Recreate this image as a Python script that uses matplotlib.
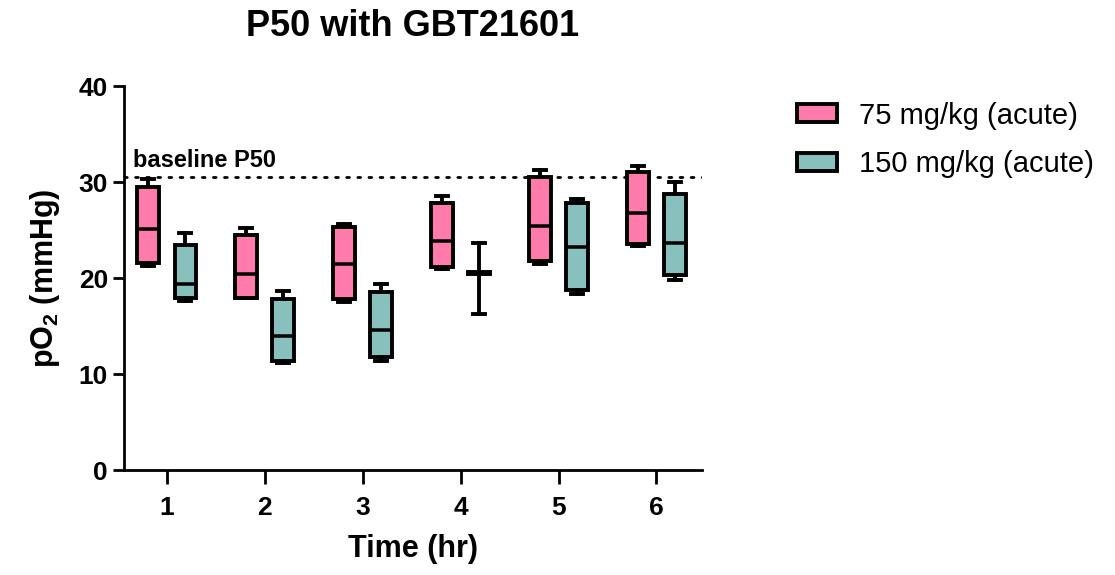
import numpy as np
import matplotlib
matplotlib.use("Agg")
import matplotlib.pyplot as plt
from matplotlib.patches import Patch

plt.rcParams['font.family'] = ['Liberation Sans', 'DejaVu Sans']
plt.rcParams['mathtext.fontset'] = 'custom'
plt.rcParams['mathtext.rm'] = 'Liberation Sans:bold'
plt.rcParams['mathtext.bf'] = 'Liberation Sans:bold'

# time points (hr)
times = [1, 2, 3, 4, 5, 6]

# 75 mg/kg (acute) box stats, mmHg
low_whislo = [21.2, 17.9, 17.5, 20.9, 21.5, 23.3]
low_q1 = [21.6, 17.95, 17.8, 21.1, 21.8, 23.5]
low_med = [25.1, 20.4, 21.5, 23.9, 25.4, 26.8]
low_q3 = [29.5, 24.5, 25.3, 27.8, 30.5, 31.0]
low_whishi = [30.3, 25.2, 25.6, 28.5, 31.25, 31.7]

# 150 mg/kg (acute) box stats, mmHg
high_whislo = [17.6, 11.1, 11.4, 16.2, 18.3, 19.8]
high_q1 = [17.95, 11.4, 11.8, 20.4, 18.7, 20.3]
high_med = [19.4, 13.96, 14.6, 20.5, 23.2, 23.6]
high_q3 = [23.4, 17.8, 18.5, 20.6, 27.85, 28.8]
high_whishi = [24.7, 18.6, 19.4, 23.6, 28.2, 30.0]

baseline_p50 = 30.5

series_labels = ["75 mg/kg (acute)", "150 mg/kg (acute)"]
colors = ["#ff7bac", "#88c0bd"]


def make_stats(whislo, q1, med, q3, whishi):
    stats = []
    for i in range(len(med)):
        stats.append(dict(whislo=whislo[i], q1=q1[i], med=med[i], q3=q3[i],
                          whishi=whishi[i], fliers=[]))
    return stats


fig = plt.figure(figsize=(11.15, 5.75), dpi=100)
ax = fig.add_axes([0.1112, 0.1826, 0.5184, 0.6678])

lw = 2.8
groups = [
    make_stats(low_whislo, low_q1, low_med, low_q3, low_whishi),
    make_stats(high_whislo, high_q1, high_med, high_q3, high_whishi),
]
offsets = [-0.19, 0.19]
for stats, off, col in zip(groups, offsets, colors):
    pos = np.array(times) + off
    ax.bxp(stats, positions=pos, widths=0.22, capwidths=0.12,
           showfliers=False, patch_artist=True, manage_ticks=False,
           boxprops=dict(facecolor=col, edgecolor='black', linewidth=lw),
           medianprops=dict(color='black', linewidth=lw * 0.9),
           whiskerprops=dict(color='black', linewidth=lw),
           capprops=dict(color='black', linewidth=lw))

ax.axhline(baseline_p50, color='black', linewidth=2, linestyle=(0, (1, 3)),
           dash_capstyle='round', zorder=0)
ax.text(0.66, baseline_p50 + 0.5, "baseline P50", fontsize=17, fontweight='bold',
        ha='left', va='bottom')

ax.set_xlim(0.564, 6.465)
ax.set_ylim(0, 40)
ax.set_xticks(times)
ax.set_yticks([0, 10, 20, 30, 40])
ax.tick_params(axis='both', width=2, length=8, labelsize=19)
for lab in ax.get_xticklabels() + ax.get_yticklabels():
    lab.set_fontweight('bold')
ax.tick_params(axis='x', pad=9, length=10)

for s in ['top', 'right']:
    ax.spines[s].set_visible(False)
for s in ['left', 'bottom']:
    ax.spines[s].set_linewidth(2)

ax.set_xlabel("Time (hr)", fontsize=22, fontweight='bold', labelpad=10)
ax.set_ylabel(r"pO$_2$ (mmHg)", fontsize=22, fontweight='bold', labelpad=12)

fig.text(0.3704, 1 - 26 / 575, "P50 with GBT21601", fontsize=26,
         fontweight='bold', ha='center', va='center')

handles = [Patch(facecolor=c, edgecolor='black', linewidth=lw) for c in colors]
fig.legend(handles, series_labels, loc='upper left',
           bbox_to_anchor=(785 / 1115, 1 - 90 / 575), frameon=False,
           fontsize=21, handlelength=1.38, handleheight=0.58,
           handletextpad=0.75, labelspacing=0.7, borderaxespad=0)

fig.savefig("out.png", dpi=100)
